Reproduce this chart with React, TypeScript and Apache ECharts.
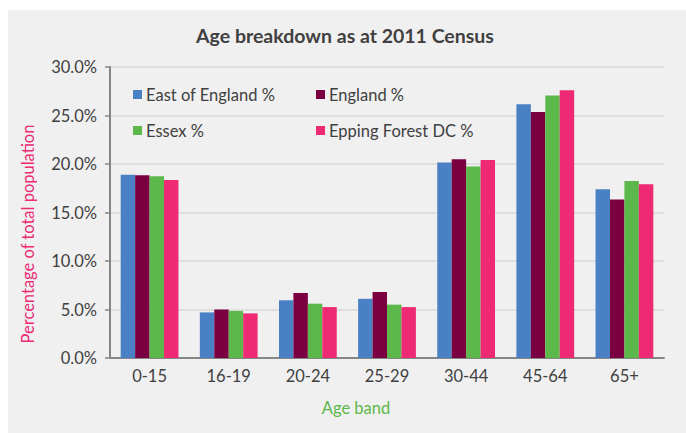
import React, { useEffect, useRef } from "react";
import * as echarts from "echarts";

// Age bands on the x axis
const ageBands = ["0-15", "16-19", "20-24", "25-29", "30-44", "45-64", "65+"];

// Share of total population (%) per age band
const eastOfEngland = [18.9, 4.7, 5.95, 6.1, 20.15, 26.15, 17.4];
const england = [18.85, 5.0, 6.7, 6.8, 20.5, 25.35, 16.35];
const essex = [18.75, 4.85, 5.6, 5.5, 19.75, 27.05, 18.25];
const eppingForest = [18.35, 4.6, 5.25, 5.25, 20.4, 27.6, 17.9];

const seriesNames = ["East of England %", "England %", "Essex %", "Epping Forest DC %"];
const seriesColors = ["#4a80c4", "#7b0042", "#5cb84a", "#ee2a74"];
const seriesValues = [eastOfEngland, england, essex, eppingForest];

const yTicks = { min: 0, max: 30, interval: 5 };

const FONT = "Lato";
const TEXT = "#404040";
const FS = 16.5;

export default function App() {
  const ref = useRef<HTMLDivElement>(null);

  useEffect(() => {
    if (!ref.current) return;
    const chart = echarts.init(ref.current, undefined, { renderer: "svg" });

    const legendPos = [
      { left: 133, top: 86 },
      { left: 316, top: 86 },
      { left: 133, top: 122 },
      { left: 316, top: 122 },
    ];

    chart.setOption({
      animation: false,
      backgroundColor: "#ffffff",
      textStyle: { fontFamily: FONT },
      title: {
        text: "Age breakdown as at 2011 Census",
        left: 340,
        textAlign: "center",
        top: 20,
        textStyle: { fontFamily: FONT, fontSize: 19.5, fontWeight: "bold", color: TEXT },
      },
      legend: seriesNames.map((name, i) => ({
        data: [name],
        left: legendPos[i].left,
        top: legendPos[i].top,
        padding: 0,
        itemWidth: 9,
        itemHeight: 9,
        icon: "rect",
        selectedMode: false,
        textStyle: { fontFamily: FONT, fontSize: FS, color: TEXT, padding: [0, 0, 0, -1] },
      })),
      graphic: [
        {
          type: "rect",
          z: -10,
          shape: { x: 8, y: 10, width: 686, height: 433 },
          style: { fill: "#f0f0f0" },
          silent: true,
        },
        {
          type: "text",
          x: 28,
          y: 234,
          rotation: Math.PI / 2,
          style: {
            text: "Percentage of total population",
            fontFamily: FONT,
            fontSize: FS,
            fill: "#ee2a74",
            align: "center",
            verticalAlign: "middle",
          },
        },
        {
          type: "text",
          x: 356,
          y: 408,
          style: {
            text: "Age band",
            fontFamily: FONT,
            fontSize: FS,
            fill: "#5cb84a",
            align: "center",
            verticalAlign: "middle",
          },
        },
      ],
      grid: { left: 110, right: 22, top: 67, bottom: 75, containLabel: false },
      xAxis: {
        type: "category",
        data: ageBands,
        axisLine: { lineStyle: { color: "#868686", width: 2 } },
        axisTick: { length: 5, lineStyle: { color: "#868686", width: 1.5 } },
        axisLabel: { fontFamily: FONT, fontSize: FS, color: TEXT, margin: 9 },
      },
      yAxis: {
        type: "value",
        min: yTicks.min,
        max: yTicks.max,
        interval: yTicks.interval,
        axisLine: { show: true, lineStyle: { color: "#868686", width: 2 } },
        axisTick: { show: true, length: 5, lineStyle: { color: "#868686", width: 1.5 } },
        axisLabel: {
          fontFamily: FONT,
          fontSize: FS,
          color: TEXT,
          margin: 13,
          formatter: (v: number) => v.toFixed(1) + "%",
        },
        splitLine: { lineStyle: { color: "#d9d9d9", width: 1.5 } },
      },
      series: seriesNames.map((name, i) => ({
        name,
        type: "bar",
        data: seriesValues[i],
        barGap: "0%",
        barCategoryGap: "27%",
        itemStyle: { color: seriesColors[i] },
      })),
    });

    return () => chart.dispose();
  }, []);

  return (
    <div
      ref={ref}
      style={{ position: "fixed", left: 0, top: 0, width: 686, height: 433 }}
    />
  );
}
